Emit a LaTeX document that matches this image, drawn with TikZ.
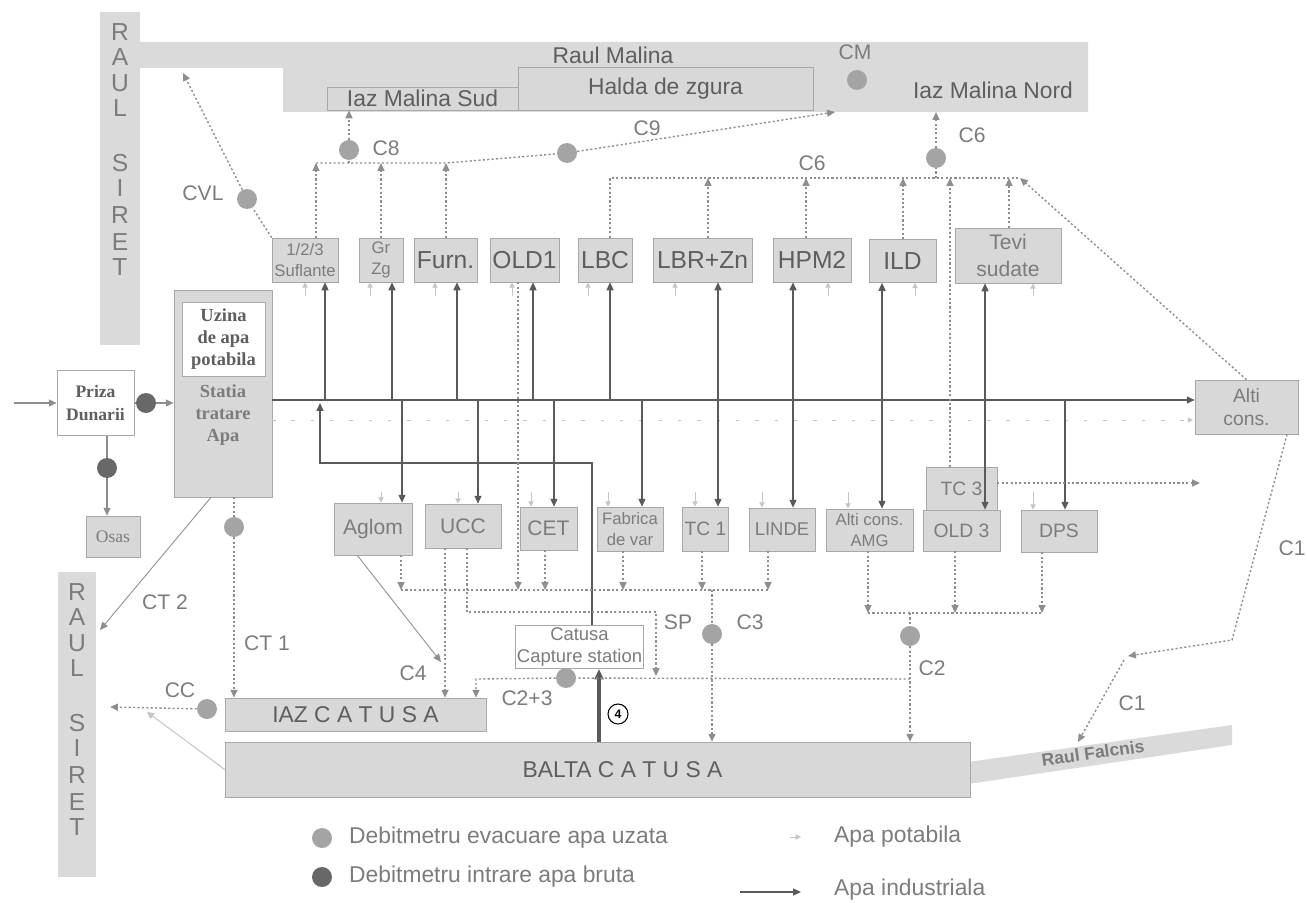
\documentclass[tikz,border=0pt]{standalone}
\usepackage{fontspec}
\setmainfont{Liberation Sans}
\newfontfamily\serifbox{Liberation Serif}
\usetikzlibrary{positioning, arrows.meta, calc}
\definecolor{rivergray}{HTML}{DADADA}
\definecolor{boxgray}{HTML}{D8D8D8}
\definecolor{edgegray}{HTML}{A8A8A8}
\definecolor{txtgray}{HTML}{7C7C7C}
\definecolor{darktxt}{HTML}{5E5E5E}
\definecolor{meterlight}{HTML}{A4A4A4}
\definecolor{meterdark}{HTML}{686868}
\definecolor{pipegray}{HTML}{5A5A5A}
\definecolor{wastegray}{HTML}{8E8E8E}
\definecolor{potgray}{HTML}{C6C6C6}

\begin{document}
\begin{tikzpicture}[x=0.02cm, y=-0.02cm,
  box/.style={rectangle, draw=edgegray, fill=boxgray, text=txtgray, inner sep=1pt, align=center},
  wbox/.style={rectangle, draw=edgegray, fill=white, text=darktxt, inner sep=1pt, align=center},
  meter/.style={circle, fill=meterlight, minimum size=0.4cm, inner sep=0pt},
  inmeter/.style={circle, fill=meterdark, minimum size=0.4cm, inner sep=0pt},
  ind/.style={draw=pipegray, line width=0.7pt, -{Triangle[length=4.5pt,width=4pt]}},
  waste/.style={draw=wastegray, line width=0.8pt, dash pattern=on 1.2pt off 1.3pt, -{Triangle[length=4.5pt,width=4pt]}},
  pot/.style={draw=potgray, line width=0.5pt, -{Triangle[length=3pt,width=3pt]}},
  lbl/.style={text=txtgray, font=\fontsize{12}{14}\selectfont},
  big/.style={font=\fontsize{14}{16}\selectfont, text=darktxt},
  riv/.style={fill=rivergray, draw=none}
]
\useasboundingbox (0,0) rectangle (1307,902);

% Rivers
\fill[riv] (100,12) rectangle (140,345);
\fill[riv] (140,42) -- (1088,42) -- (1088,112) -- (283,112) -- (283,68) -- (140,68) -- cycle;
\fill[riv] (58,572) rectangle (96,877);
\fill[riv] (968,762) -- (1232,725) -- (1232,745) -- (968,784) -- cycle;
\foreach \ch/\dy in {R/0,A/25,U/51,L/76,S/131,I/156,R/183,E/210,T/235}{
  \node[text=txtgray, font=\fontsize{14}{14}\selectfont] (sa-\dy) at (120,32+\dy) {\ch};
  \node[text=txtgray, font=\fontsize{14}{14}\selectfont] (sb-\dy) at (77,592+\dy) {\ch};
}
\node[lbl, font=\fontsize{13}{15}\selectfont, text=darktxt] (malina) at (613,55) {Raul Malina};
\node[text=txtgray, font=\fontsize{10}{10}\selectfont\bfseries, rotate=8] (falcnis) at (1093,753) {Raul Falcnis};

% Ponds on Malina
\node[box, minimum width=3.82cm, minimum height=0.46cm, font=\fontsize{13}{15}\selectfont, text=darktxt] (iazsud) at (422.5,98.5) {Iaz Malina Sud};
\node[box, minimum width=5.9cm, minimum height=0.86cm, font=\fontsize{13}{15}\selectfont, text=darktxt] (halda) at (665.5,88.5) {Halda de zgura};
\node[lbl] (cmlbl) at (855,52) {CM};
\node[meter] (cm) at (857,80) {};
\node[lbl, font=\fontsize{13}{15}\selectfont, text=darktxt] (iaznord) at (993,90) {Iaz Malina Nord};

% Intake and treatment
\node[wbox, minimum width=1.54cm, minimum height=1.3cm, font=\serifbox\bfseries\fontsize{10}{13}\selectfont] (priza) at (95.5,403) {Priza\\Dunarii};
\node[box, minimum width=1.08cm, minimum height=0.82cm, font=\serifbox\fontsize{10}{12}\selectfont] (osas) at (113,536.5) {Osas};
\node[box, minimum width=1.96cm, minimum height=4.14cm] (statia) at (223,393.5) {};
\node[wbox, minimum width=1.66cm, minimum height=1.48cm, font=\serifbox\bfseries\fontsize{10.5}{12.5}\selectfont] (uzina) at (223.5,339) {Uzina\\de apa\\potabila};
\node[text=txtgray, align=center, font=\serifbox\bfseries\fontsize{10.5}{12.5}\selectfont] (statialbl) at (223,415) {Statia\\tratare\\Apa};

% Top consumers
\node[box, minimum width=1.32cm, minimum height=0.88cm, font=\fontsize{9.5}{12}\selectfont] (suf) at (305,260) {1/2/3\\Suflante};
\node[box, minimum width=0.88cm, minimum height=0.88cm, font=\fontsize{9.5}{12}\selectfont] (grzg) at (381,260) {Gr\\Zg};
\node[box, big, minimum width=1.26cm, minimum height=0.88cm] (furn) at (445.5,260) {Furn.};
\node[box, big, minimum width=1.38cm, minimum height=0.88cm] (old1) at (524.5,260) {OLD1};
\node[box, big, minimum width=1.08cm, minimum height=0.88cm] (lbc) at (605,260) {LBC};
\node[box, big, minimum width=1.98cm, minimum height=0.88cm] (lbr) at (702.5,260) {LBR+Zn};
\node[box, big, minimum width=1.56cm, minimum height=0.88cm] (hpm) at (812,260) {HPM2};
\node[box, big, minimum width=1.34cm, minimum height=0.86cm] (ild) at (902.5,261) {ILD};
\node[box, minimum width=2.12cm, minimum height=1.1cm, font=\fontsize{12}{15}\selectfont] (tevi) at (1008,255.5) {Tevi\\sudate};
\node[box, minimum width=2.06cm, minimum height=1.08cm, font=\fontsize{11}{13}\selectfont] (alti) at (1246.5,407) {Alti\\cons.};

% Bottom consumers
\node[box, minimum width=1.56cm, minimum height=1.04cm, font=\fontsize{12}{14}\selectfont] (aglom) at (373,529) {Aglom};
\node[box, minimum width=1.52cm, minimum height=0.88cm, font=\fontsize{12}{14}\selectfont] (ucc) at (463,526) {UCC};
\node[box, minimum width=1.14cm, minimum height=0.86cm, font=\fontsize{12}{14}\selectfont] (cet) at (548.5,528.5) {CET};
\node[box, minimum width=1.32cm, minimum height=0.88cm, font=\fontsize{9.5}{12}\selectfont] (fab) at (630,529) {Fabrica\\de var};
\node[box, minimum width=0.9cm, minimum height=0.88cm, font=\fontsize{11}{13}\selectfont] (tc1) at (705.5,529) {TC 1};
\node[box, minimum width=1.32cm, minimum height=0.86cm, font=\fontsize{10.5}{13}\selectfont] (linde) at (782,529.5) {LINDE};
\node[box, minimum width=1.74cm, minimum height=0.84cm, font=\fontsize{9.5}{11.5}\selectfont] (amg) at (869.5,530) {Alti cons.\\AMG};
\node[box, minimum width=1.54cm, minimum height=0.82cm, font=\fontsize{11}{13}\selectfont] (old3) at (961.5,530.5) {OLD 3};
\node[box, minimum width=1.42cm, minimum height=0.86cm, font=\fontsize{11}{13}\selectfont] (tc3) at (961.5,488.5) {TC 3};
\node[box, minimum width=1.52cm, minimum height=0.84cm, font=\fontsize{11}{13}\selectfont] (dps) at (1059,531) {DPS};

% Catusa
\node[wbox, minimum width=2.54cm, minimum height=0.84cm, text=txtgray, font=\fontsize{10.5}{13}\selectfont] (cat) at (579.5,647) {Catusa\\Capture station};
\node[box, minimum width=5.22cm, minimum height=0.66cm, font=\fontsize{13}{15}\selectfont, text=darktxt] (iazcat) at (355.5,714.5) {IAZ C A T U S A};
\node[box, minimum width=14.9cm, minimum height=1.1cm, font=\fontsize{13}{15}\selectfont, text=darktxt] (balta) at (597.5,769.5) {\hspace*{1cm}BALTA C A T U S A};

% Flow meters
\node[meter] (cvl) at (247,199) {};
\node[meter] (c8) at (349,150) {};
\node[meter] (c9) at (567,153) {};
\node[meter] (c6) at (936,158) {};
\node[meter] (ct1) at (234,527) {};
\node[meter] (cc) at (207,709) {};
\node[meter] (c23) at (566,678) {};
\node[meter] (c3) at (712,634) {};
\node[meter] (c2) at (910,636) {};
\node[inmeter] (d1) at (146,403) {};
\node[inmeter] (d2) at (107,468) {};

% Meter labels
\node[lbl] (cvllbl) at (203,193) {CVL};
\node[lbl] (c8lbl) at (386,148) {C8};
\node[lbl] (c9lbl) at (647,128) {C9};
\node[lbl] (c6lbl) at (812,163) {C6};
\node[lbl] (c6lblb) at (972,135) {C6};
\node[lbl] (ct2lbl) at (165,602) {CT 2};
\node[lbl] (ct1lbl) at (267,643) {CT 1};
\node[lbl] (cclbl) at (180,690) {CC};
\node[lbl] (c4lbl) at (413,673) {C4};
\node[lbl] (c23lbl) at (527,698) {C2+3};
\node[lbl] (splbl) at (678,622) {SP};
\node[lbl] (c3lbl) at (750,622) {C3};
\node[lbl] (c2lbl) at (932,668) {C2};
\node[lbl] (c1lbl) at (1292,548) {C1};
\node[lbl] (c1lblb) at (1132,703) {C1};
\node[circle, draw=black, line width=0.6pt, minimum size=0.4cm, inner sep=0pt, font=\fontsize{7}{7}\selectfont\bfseries] (n4) at (618,714) {4};

% Raw water intake
\coordinate (din) at (14,403);
\draw[ind, draw=wastegray] (din) -- (priza.west);
\draw[draw=wastegray, line width=0.7pt] (priza.east) -- (d1);
\draw[ind, draw=wastegray] (d1) -- (statia.west |- d1);
\draw[draw=wastegray, line width=0.7pt] (priza.south -| d2) -- (d2);
\draw[ind, draw=wastegray] (d2) -- (osas.north -| d2);

% Potable water
\coordinate (pw0) at (272,420);
\coordinate (pw1) at (1193,420);
\draw[pot, dash pattern=on 2pt off 9pt] (pw0) -- (pw1);
\foreach \n/\x in {suf/305, grzg/370, furn/435, old1/512, lbc/588, lbr/675, hpm/828, ild/915, tevi/1033}{
  \coordinate (pt\n) at (\x,296);
  \draw[pot] (pt\n) -- (\n.south -| pt\n);
}
\foreach \n/\x in {aglom/381, ucc/458, cet/531, fab/608, tc1/695, linde/762, amg/848, dps/1033}{
  \coordinate (pb\n) at (\x,492);
  \draw[pot] (pb\n) -- (\n.north -| pb\n);
}

% Industrial water
\coordinate (m0) at (272,400);
\draw[ind] (m0) -- (alti.west |- m0);
\foreach \n/\x in {suf/325, grzg/392, furn/457, old1/533, lbc/610}{
  \coordinate (j\n) at (\x,400);
  \draw[ind] (j\n) -- (\n.south -| j\n);
}
\foreach \n/\x in {aglom/402, ucc/478, cet/554, fab/642, dps/1065}{
  \coordinate (j\n) at (\x,400);
  \draw[ind] (j\n) -- (\n.north -| j\n);
}
\foreach \a/\b/\x in {lbr/tc1/718, hpm/linde/793, ild/amg/882, tevi/old3/985}{
  \coordinate (k\a) at (\x,400);
  \draw[ind, {Triangle[length=4.5pt,width=4pt]}-{Triangle[length=4.5pt,width=4pt]}] (\b.north -| k\a) -- (\a.south -| k\a);
}
\coordinate (r1) at (592,463);
\coordinate (r2) at (320,463);
\coordinate (r3) at (320,403);
\draw[ind] (cat.north -| r1) -- (r1) -- (r2) -- (r3);
\coordinate (p4) at (599,742);
\draw[ind, line width=1.8pt, -{Triangle[length=6pt,width=5pt]}] (balta.north -| p4) -- (cat.south -| p4);

% Waste water, top
\coordinate (t1) at (316,163);
\coordinate (t8) at (349,163);
\coordinate (t2) at (381,163);
\coordinate (t3) at (446,163);
\coordinate (mn) at (835,112);
\draw[waste] (suf.north -| t1) -- (t1);
\draw[waste] (grzg.north -| t2) -- (t2);
\draw[waste] (furn.north -| t3) -- (t3);
\draw[waste, -] (t1) -- (t3) -- (c9);
\draw[waste] (c9) -- (mn);
\draw[waste, -] (t8) -- (c8);
\draw[waste] (c8) -- (iazsud.south -| c8);
\coordinate (sv) at (183,73);
\draw[waste, -] (suf.north west) -- (cvl);
\draw[waste] (cvl) -- (sv);

\coordinate (u1) at (610,178);
\coordinate (u2) at (708,178);
\coordinate (u3) at (806,178);
\coordinate (u4) at (903,178);
\coordinate (u6) at (936,178);
\coordinate (u5) at (950,178);
\coordinate (u7) at (1009,178);
\coordinate (ue) at (1020,178);
\coordinate (nb) at (936,112);
\draw[waste, -] (lbc.north -| u1) -- (u1) -- (ue);
\foreach \n/\u in {lbr/u2, hpm/u3, ild/u4, tc3/u5, tevi/u7}
  \draw[waste] (\n.north -| \u) -- (\u);
\draw[waste] (alti.north) -- (ue);
\draw[waste, -] (u6) -- (c6);
\draw[waste] (c6) -- (nb);

% Waste water, bottom
\foreach \n/\x in {aglom/401, cet/545, fab/623, tc1/702, linde/768}{
  \coordinate (l\n) at (\x,590);
  \draw[waste] (\n.south -| l\n) -- (l\n);
}
\coordinate (lold1) at (518,590);
\draw[waste] (old1.south -| lold1) -- (lold1);
\draw[waste, -] (laglom) -- (llinde);
\coordinate (l3) at (712,590);
\draw[waste, -] (l3) -- (c3);
\draw[waste] (c3) -- (balta.north -| c3);

\coordinate (k1) at (445,600);
\draw[waste] (ucc.south -| k1) -- (iazcat.north -| k1);
\coordinate (s1) at (467,612);
\coordinate (s2) at (656,612);
\coordinate (s3) at (656,676);
\draw[waste] (ucc.south -| s1) -- (s1) -- (s2) -- (s3);

\coordinate (q0) at (910,679);
\coordinate (q1) at (476,679);
\draw[waste, -] (q0) -- (c23);
\draw[waste] (c23) -- (q1) -- (iazcat.north -| q1);

\coordinate (a4) at (441,662);
\draw[draw=wastegray, line width=0.5pt, -{Triangle[length=4.5pt,width=4pt]}] ($(aglom.south west)!0.3!(aglom.south east)$) -- (a4);

\foreach \n/\x in {amg/868, old3/955, dps/1042}{
  \coordinate (v\n) at (\x,613);
  \draw[waste] (\n.south -| v\n) -- (v\n);
}
\draw[waste, -] (vamg) -- (vdps);
\coordinate (v2) at (910,613);
\draw[waste, -] (v2) -- (c2);
\draw[waste] (c2) -- (balta.north -| c2);

\coordinate (tcr) at (1200,483);
\draw[waste] (tc3.east |- tcr) -- (tcr);

\coordinate (e0) at (1287,434);
\coordinate (e1) at (1232,640);
\coordinate (e2) at (1128,656);
\coordinate (e3) at (1124,660);
\coordinate (falc) at (1078,742);
\draw[waste] (alti.south -| e0) -- (e1) -- (e2);
\draw[waste] (e3) -- (falc);

\draw[waste, -] (statia.south -| ct1) -- (ct1);
\draw[waste] (ct1) -- (iazcat.north -| ct1);
\coordinate (g0) at (211,498);
\coordinate (sir2) at (100,630);
\draw[draw=wastegray, line width=0.5pt, -{Triangle[length=4.5pt,width=4pt]}] (statia.south -| g0) -- (sir2);
\coordinate (sw) at (110,707);
\draw[waste] (cc) -- (sw);
\coordinate (bw) at (147,712);
\draw[draw=potgray, line width=0.6pt, -{Triangle[length=4pt,width=4pt]}] (balta.west) -- (bw);

% Legend
\node[meter] (legev) at (322,838) {};
\node[lbl, anchor=west, font=\fontsize{13}{15}\selectfont] (legevt) at (343,838) {Debitmetru evacuare apa uzata};
\node[inmeter] (legin) at (322,877) {};
\node[lbl, anchor=west, font=\fontsize{13}{15}\selectfont] (legint) at (343,877) {Debitmetru intrare apa bruta};
\coordinate (lp0) at (790,837);
\coordinate (lp1) at (801,837);
\draw[pot] (lp0) -- (lp1);
\node[lbl, anchor=west, font=\fontsize{13}{15}\selectfont] (legpot) at (828,837) {Apa potabila};
\coordinate (li0) at (740,892);
\coordinate (li1) at (801,892);
\draw[ind] (li0) -- (li1);
\node[lbl, anchor=west, font=\fontsize{13}{15}\selectfont] (legind) at (828,890) {Apa industriala};

\end{tikzpicture}
\end{document}
